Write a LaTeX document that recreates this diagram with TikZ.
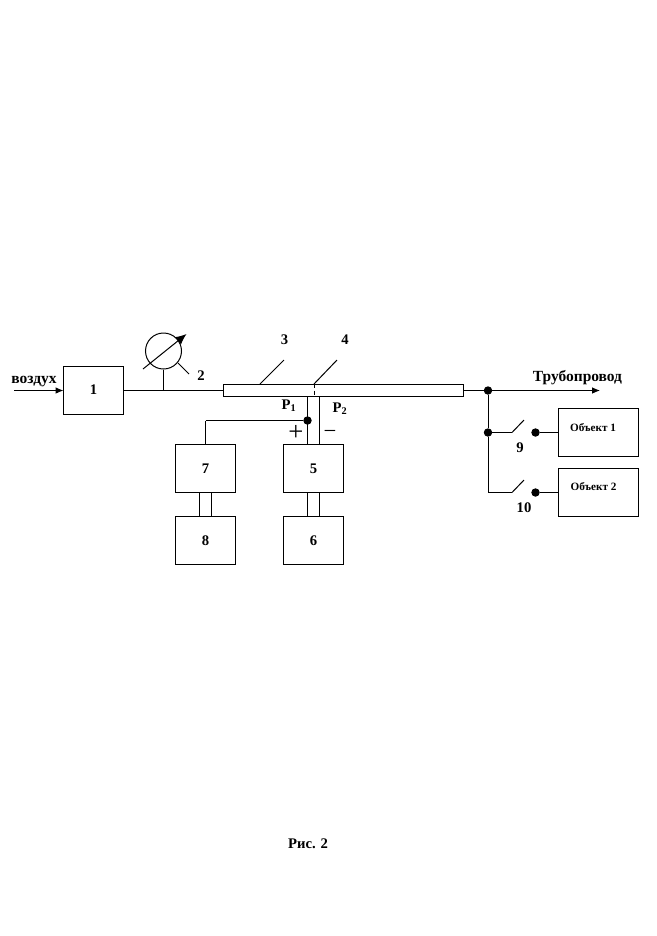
\documentclass[tikz,border=0pt]{standalone}
\usepackage{fontspec}
\setmainfont{Liberation Serif}
\usetikzlibrary{arrows.meta}
\begin{document}
\begin{tikzpicture}[x=0.75pt, y=-0.75pt, line width=0.75pt]
        \tikzstyle{block}=[draw, minimum width=45pt, minimum height=36pt,
            inner sep=0pt, font=\fontsize{11}{13}\selectfont\bfseries]
        \tikzstyle{object}=[draw, minimum width=59.5pt, minimum height=36pt,
            inner sep=0pt]
        \tikzstyle{dot}=[draw, circle, fill=black,
            minimum size=5.5pt, inner sep=0pt]
        \tikzstyle{txt}=[inner sep=0pt, font=\fontsize{11}{13}\selectfont\bfseries]
        \tikzstyle{word}=[inner sep=0pt, font=\fontsize{11.6}{13}\selectfont\bfseries]
        \tikzstyle{small}=[inner sep=0pt, font=\fontsize{8.4}{10}\selectfont\bfseries]
        \tikzstyle{flow}=[-{Latex[length=6pt, width=5pt]}]

        \useasboundingbox (0, 0) rectangle (657, 936);

        \node[block] (b1) at (93.5, 390.5) {\raisebox{1pt}{1}};
        \node[block] (b7) at (205.5, 468.5) {7};
        \node[block] (b8) at (205.5, 540.5) {8};
        \node[block] (b5) at (313.5, 468.5) {5};
        \node[block] (b6) at (313.5, 540.5) {6};
        \node[object] (obj1) at (598.5, 432.5) {};
        \node[object] (obj2) at (598.5, 492.5) {};
        \node[small] (obj1txt) at (593, 428) {Объект 1};
        \node[small] (obj2txt) at (593.5, 486.5) {Объект 2};
        \node[draw, minimum width=180.5pt, minimum height=9pt, inner sep=0pt] (pipe) at (343.5, 390) {};
        \node[draw, circle, minimum size=27pt, inner sep=0pt] (gauge) at (163.5, 351) {};

        \node[word] (air) at (34, 381.5) {воздух};
        \node[word] (line) at (577.5, 378) {Трубопровод};
        \node[txt] (n2) at (201, 376) {2};
        \node[txt] (n3) at (284.5, 340) {3};
        \node[txt] (n4) at (345, 340) {4};
        \node[txt] (p1) at (289, 405.5) {P\textsubscript{1}};
        \node[txt] (p2) at (340, 408.5) {P\textsubscript{2}};
        \node[txt] (n9) at (520, 447.5) {9};
        \node[txt] (n10) at (524, 507.5) {10};
        \node[txt] (fig) at (308, 844) {Рис. 2};
        \node[inner sep=0pt, font=\fontsize{20}{20}\selectfont] (plus) at (296, 433) {+};
        \node[inner sep=0pt, font=\fontsize{17}{17}\selectfont] (minus) at (330, 434.5) {\char"2212};

        \coordinate (airin) at (14, 390.5);
        \coordinate (b1in) at (63.5, 390.5);
        \coordinate (stem) at (163.5, 390.5);
        \coordinate (pipein) at (223.5, 390.5);
        \coordinate (arrow1) at (143, 369);
        \coordinate (arrow2) at (186.5, 334);
        \coordinate (lead2a) at (178, 363);
        \coordinate (lead2b) at (189, 374);
        \coordinate (lead3a) at (260, 384);
        \coordinate (lead3b) at (284, 360);
        \coordinate (lead4a) at (314, 384);
        \coordinate (lead4b) at (337, 360);
        \coordinate (tap4) at (314, 396);
        \coordinate (out) at (463.5, 390.5);
        \coordinate (outend) at (600, 390.5);

        \node[dot] (j1) at (488, 390.5) {};
        \node[dot] (j2) at (488, 432.5) {};
        \coordinate (j3) at (488, 492.5);
        \node[dot] (c1) at (535.5, 432.5) {};
        \node[dot] (c2) at (535.5, 492.5) {};
        \coordinate (s1a) at (512, 432.5);
        \coordinate (s1b) at (524, 420);
        \coordinate (s2a) at (512, 492.5);
        \coordinate (s2b) at (524, 480);

        \node[dot] (p1dot) at (307.5, 420.5) {};
        \coordinate (p1top) at (307.5, 396);
        \coordinate (p1bot) at (307.5, 444.5);
        \coordinate (p2top) at (319.5, 396);
        \coordinate (p2bot) at (319.5, 444.5);
        \coordinate (k7) at (205.5, 420.5);
        \coordinate (k7bot) at (205.5, 444.5);
        \coordinate (l1a) at (199.5, 492.5);
        \coordinate (l1b) at (199.5, 516.5);
        \coordinate (l2a) at (211.5, 492.5);
        \coordinate (l2b) at (211.5, 516.5);
        \coordinate (l3a) at (307.5, 492.5);
        \coordinate (l3b) at (307.5, 516.5);
        \coordinate (l4a) at (319.5, 492.5);
        \coordinate (l4b) at (319.5, 516.5);

        \draw[flow] (airin) to (b1in);
        \draw (b1.east) to (pipein);
        \draw (gauge.south) to (stem);
        \draw[-{Latex[length=8pt, width=7pt]}] (arrow1) to (arrow2);
        \draw (lead2a) to (lead2b);
        \draw (lead3a) to (lead3b);
        \draw (lead4a) to (lead4b);
        \draw[densely dashed] (lead4a) to (tap4);

        \draw[flow] (out) to (outend);
        \draw (j1) to (j2);
        \draw (j2) to (j3);
        \draw (j2) to (s1a);
        \draw (s1a) to (s1b);
        \draw (j3) to (s2a);
        \draw (s2a) to (s2b);
        \draw (c1) to (c1 -| obj1.west);
        \draw (c2) to (c2 -| obj2.west);

        \draw (p1top) to (p1bot);
        \draw (p2top) to (p2bot);
        \draw (p1dot) to (k7);
        \draw (k7) to (k7bot);
        \draw (l1a) to (l1b);
        \draw (l2a) to (l2b);
        \draw (l3a) to (l3b);
        \draw (l4a) to (l4b);
    \end{tikzpicture}
\end{document}
